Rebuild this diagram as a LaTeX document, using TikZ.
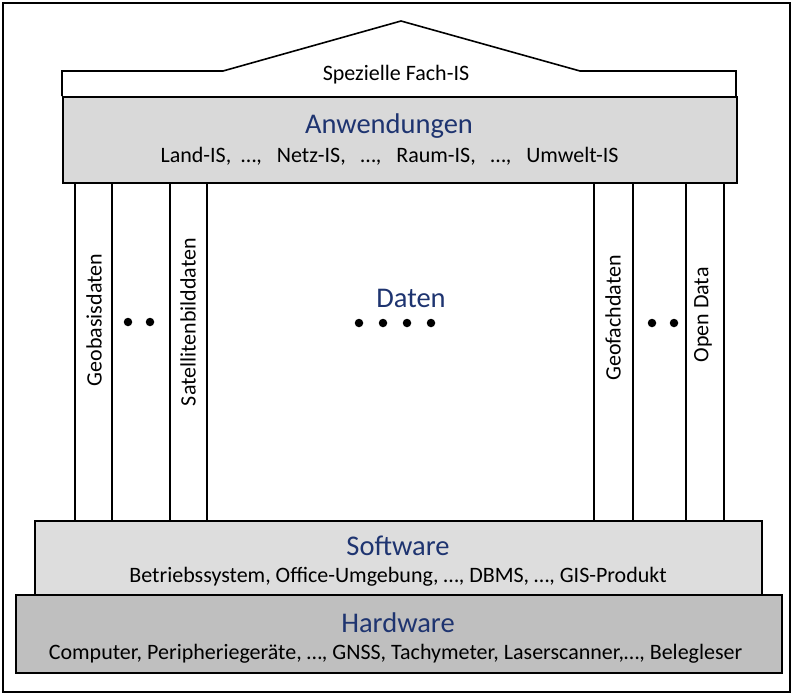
\documentclass[tikz,border=0pt]{standalone}
\usepackage{fontspec}
\setmainfont{Carlito}
\definecolor{navy}{RGB}{30,52,112}
\definecolor{lightgr}{RGB}{217,217,217}
\definecolor{swgr}{RGB}{221,221,221}
\definecolor{hwgr}{RGB}{191,191,191}
\tikzset{
  ln/.style={line width=1.6pt, black},
  box/.style={draw, line width=1.6pt, anchor=north west, inner sep=0pt},
  ttl/.style={text=navy, font=\fontsize{28.5}{32}\selectfont, inner sep=0pt},
  txt/.style={text=black, font=\fontsize{22}{25}\selectfont, inner sep=0pt},
  vtxt/.style={txt, rotate=90},
  dot/.style={circle, fill=black, minimum size=8.5pt, inner sep=0pt}
}
\begin{document}
\begin{tikzpicture}[x=1pt,y=-1pt]
\useasboundingbox (0,0) rectangle (795,696);
\draw[ln] (3,3) rectangle (790,692);
% roof
\draw[ln, fill=white] (62,96) -- (62,71) -- (223,71) -- (401,21) -- (580,71) -- (736,71) -- (736,96);
\node[txt] (fach) at (396,75) {Spezielle Fach-IS};
% Anwendungen
\node[box, fill=lightgr, minimum width=674pt, minimum height=86pt] (anw) at (62,96) {};
\node[ttl] (anwt) at (389,126) {Anwendungen};
\node[txt] (anwl) at (389.5,156) {Land-IS,\ \ \dots,\ \ \ Netz-IS,\ \ \ \dots,\ \ \ Raum-IS,\ \ \ \dots,\ \ \ Umwelt-IS};
% columns
\foreach \x in {75,112,170,207,594,633,686,724}{
  \draw[ln] (\x,182) -- (\x,520);
}
\node[vtxt] (geob) at (94,320) {Geobasisdaten};
\node[vtxt] (sat) at (188,322) {Satellitenbilddaten};
\node[vtxt] (geof) at (613,318) {Geofachdaten};
\node[vtxt] (open) at (703,315) {Open Data};
\node[dot] (d1) at (128,322) {};
\node[dot] (d2) at (150,322) {};
\node[dot] (d3) at (652,323) {};
\node[dot] (d4) at (674,323) {};
\node[ttl] (daten) at (411,298) {Daten};
\node[dot] (e1) at (359,323) {};
\node[dot] (e2) at (383,323) {};
\node[dot] (e3) at (407,323) {};
\node[dot] (e4) at (431,323) {};
% Software
\node[box, fill=swgr, minimum width=727pt, minimum height=74pt] (sw) at (34,520) {};
\node[ttl] (swt) at (398,546) {Software};
\node[txt] (swl) at (398,577) {Betriebssystem, Office-Umgebung, \dots, DBMS, \dots, GIS-Produkt};
% Hardware
\node[box, fill=hwgr, minimum width=766pt, minimum height=78pt] (hw) at (15,594) {};
\node[ttl] (hwt) at (398,623) {Hardware};
\node[txt] (hwl) at (395.5,654) {Computer, Peripheriegeräte, \dots, GNSS, Tachymeter, Laserscanner,\dots, Belegleser};
\end{tikzpicture}
\end{document}
